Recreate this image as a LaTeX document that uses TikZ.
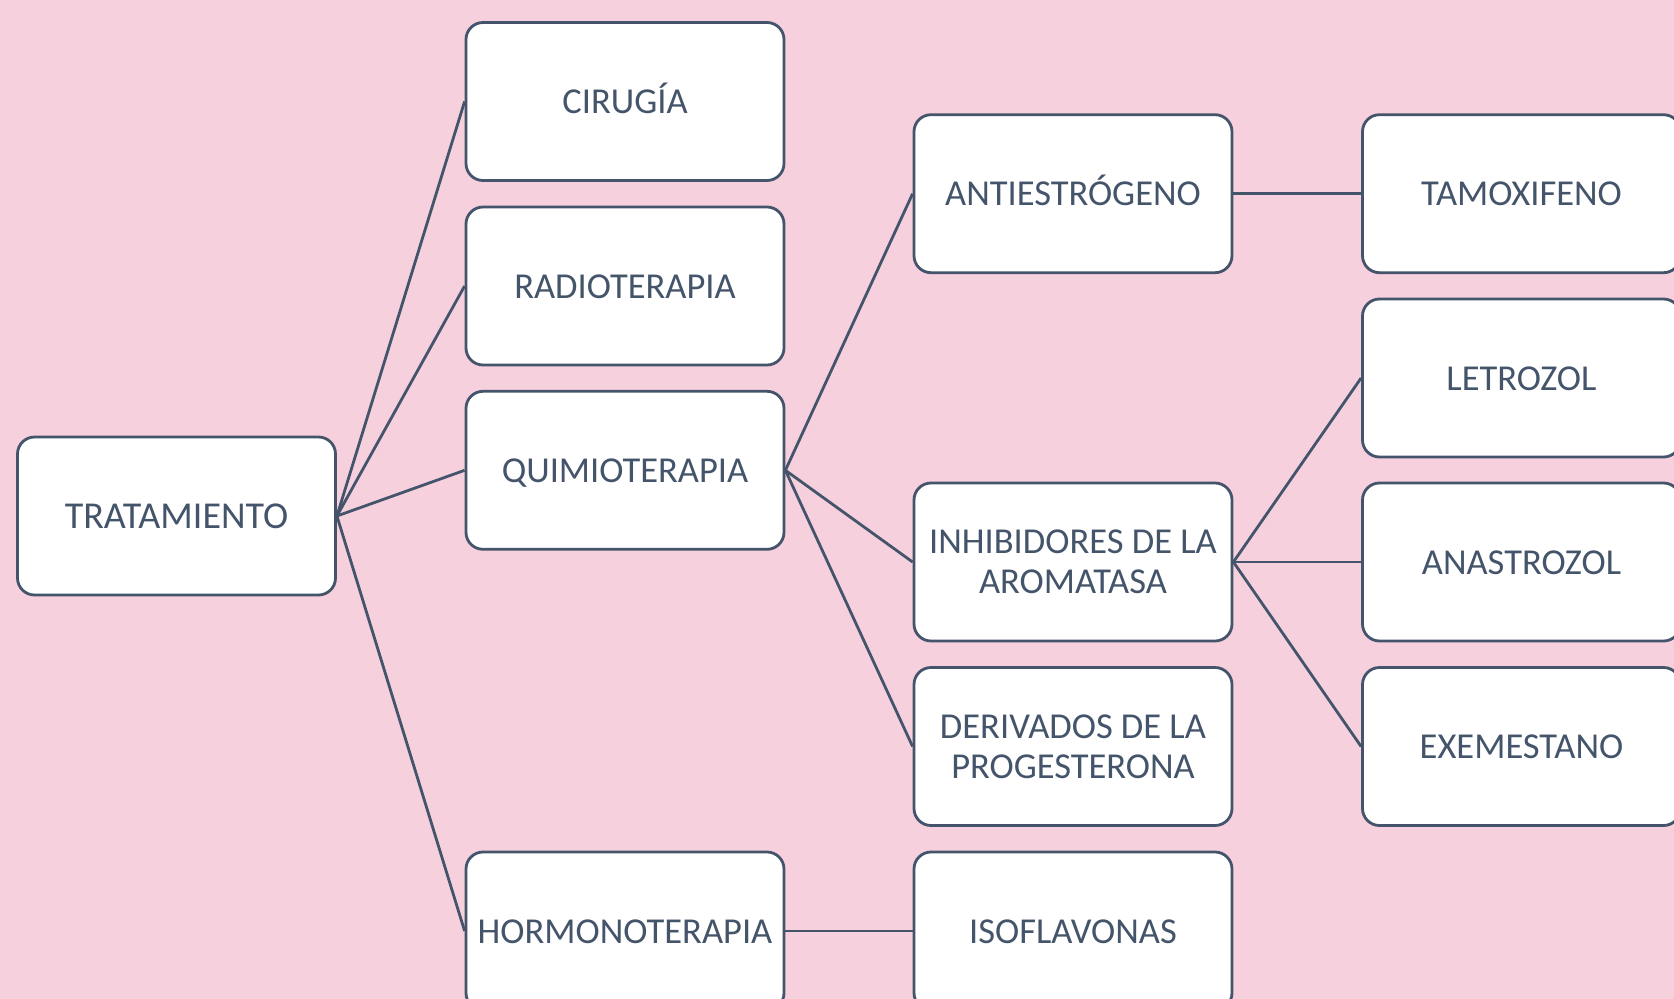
\documentclass[tikz,border=0pt]{standalone}
\usepackage{fontspec}
\setmainfont{Carlito}
\definecolor{bg}{HTML}{F7D0DE}
\definecolor{ln}{HTML}{44546A}
\tikzset{
  box/.style={draw=ln, line width=2.8pt, fill=white, rounded corners=17pt,
    minimum width=318pt, minimum height=158pt, inner sep=0pt, text=ln,
    align=center, font=\fontsize{36.5}{40}\selectfont},
  one/.style={text height=24pt, text depth=0pt},
  edge/.style={draw=ln, line width=2.8pt}
}
\begin{document}
\begin{tikzpicture}[x=1pt,y=-1pt]
\fill[bg] (0,0) rectangle (1674,999);
\useasboundingbox (0,0) rectangle (1674,999);
% column 1
\node[box, one, font=\fontsize{38}{44}\selectfont] (trat) at (176.5,516) {TRATAMIENTO};
% column 2
\node[box, one] (cir) at (625,101.5) {CIRUGÍA};
\node[box, one] (rad) at (625,286) {RADIOTERAPIA};
\node[box, one] (qui) at (625,470.3) {QUIMIOTERAPIA};
\node[box, one] (hor) at (625,931) {HORMONOTERAPIA};
% column 3
\node[box, one] (ant) at (1073,193.7) {ANTIESTRÓGENO};
\node[box] (inh) at (1073,562) {INHIBIDORES DE LA\\AROMATASA};
\node[box] (der) at (1073,746.5) {DERIVADOS DE LA\\PROGESTERONA};
\node[box, one] (iso) at (1073,931) {ISOFLAVONAS};
% column 4
\node[box, one] (tam) at (1521.5,193.7) {TAMOXIFENO};
\node[box, one] (let) at (1521.5,378) {LETROZOL};
\node[box, one] (ana) at (1521.5,562) {ANASTROZOL};
\node[box, one] (exe) at (1521.5,746.5) {EXEMESTANO};
% connectors
\draw[edge] (trat.east) -- (cir.west);
\draw[edge] (trat.east) -- (rad.west);
\draw[edge] (trat.east) -- (qui.west);
\draw[edge] (trat.east) -- (hor.west);
\draw[edge] (qui.east) -- (ant.west);
\draw[edge] (qui.east) -- (inh.west);
\draw[edge] (qui.east) -- (der.west);
\draw[edge] (hor.east) -- (iso.west);
\draw[edge] (ant.east) -- (tam.west);
\draw[edge] (inh.east) -- (let.west);
\draw[edge] (inh.east) -- (ana.west);
\draw[edge] (inh.east) -- (exe.west);
\end{tikzpicture}
\end{document}
